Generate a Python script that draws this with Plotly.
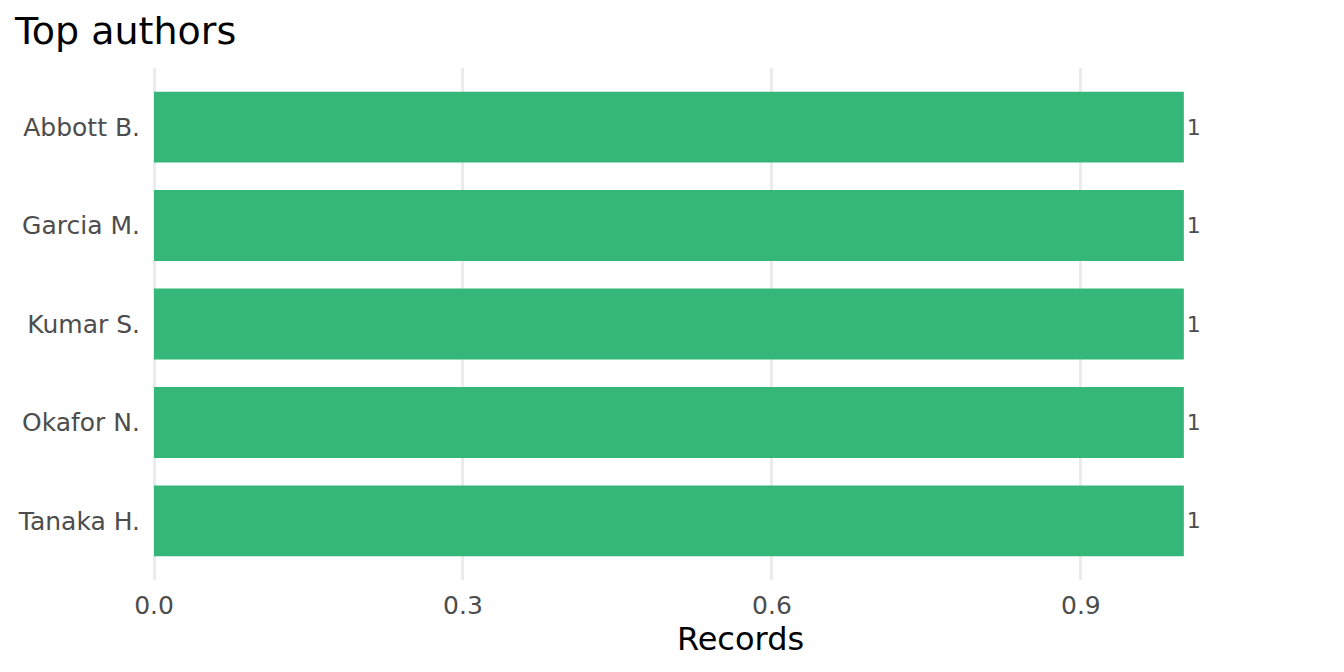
import plotly.graph_objects as go

# data
authors = ['Abbott B.', 'Garcia M.', 'Kumar S.', 'Okafor N.', 'Tanaka H.']
records = [1, 1, 1, 1, 1]
x_ticks = [0.0, 0.3, 0.6, 0.9]
x_tick_labels = ['0.0', '0.3', '0.6', '0.9']

BAR_GREEN = '#35B779'
GRID = '#EBEBEB'
TICK_GREY = '#4D4D4D'
FONT = 'DejaVu Sans'

fig = go.Figure()
fig.add_trace(go.Bar(
    x=records,
    y=authors,
    orientation='h',
    marker={'color': BAR_GREEN, 'line': {'width': 0}},
    width=0.72,
    text=[str(v) for v in records],
    textposition='outside',
    cliponaxis=False,
    textfont={'family': FONT, 'size': 22, 'color': TICK_GREY},
))

fig.update_layout(
    width=1344,
    height=672,
    margin={'l': 154, 'r': 17, 't': 68, 'b': 92},
    plot_bgcolor='white',
    paper_bgcolor='white',
    showlegend=False,
    font={'family': FONT, 'color': TICK_GREY},
    title={
        'text': 'Top authors',
        'font': {'family': FONT, 'size': 38, 'color': 'black'},
        'xref': 'container', 'x': 15 / 1344, 'xanchor': 'left',
        'yref': 'container', 'y': 1 - 31 / 672, 'yanchor': 'middle',
    },
)

fig.update_xaxes(
    range=[0, 1.139],
    tickvals=x_ticks,
    ticktext=x_tick_labels,
    tickfont={'family': FONT, 'size': 25, 'color': TICK_GREY},
    showgrid=True, gridcolor=GRID, gridwidth=2.6,
    zeroline=True, zerolinecolor=GRID, zerolinewidth=2.6,
    showline=False, ticks='',
    ticklabelstandoff=8,
    title={'text': 'Records', 'font': {'family': FONT, 'size': 32, 'color': 'black'},
           'standoff': 7},
)

fig.update_yaxes(
    categoryorder='array',
    categoryarray=authors,
    range=[len(authors) - 0.4, -0.6],
    tickfont={'family': FONT, 'size': 25, 'color': TICK_GREY},
    showgrid=False,
    showline=False, ticks='',
    ticklabelstandoff=13,
)

# the page body has a default 8px margin; drop it so the figure fills the window
fig.write_html('out.html', config={'displayModeBar': False},
               post_script="document.body.style.margin = '0';")
